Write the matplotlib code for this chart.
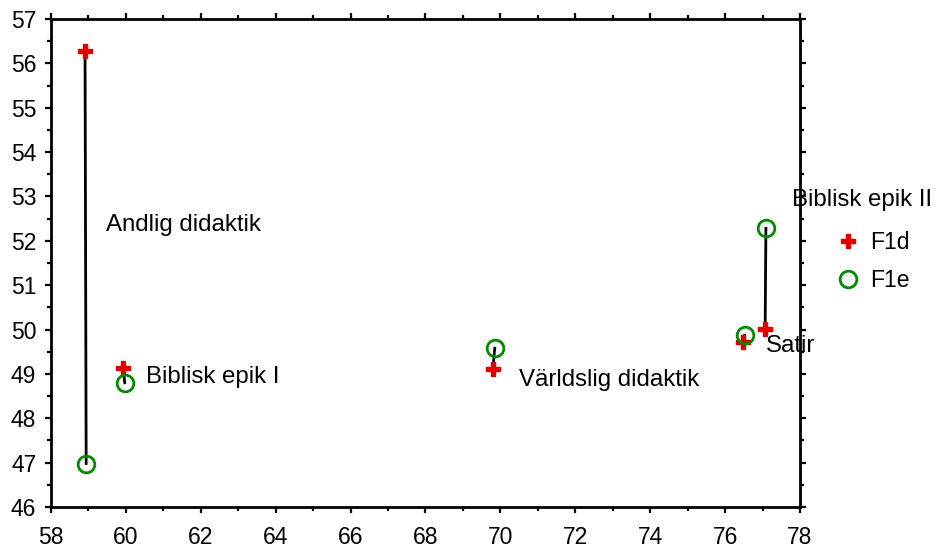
import matplotlib
matplotlib.use("Agg")
import matplotlib.pyplot as plt
from matplotlib.ticker import MultipleLocator
from matplotlib.lines import Line2D

plt.rcParams["font.family"] = ["Liberation Sans", "DejaVu Sans"]

# genres, each with an F1d and an F1e point
GENRES = ["Andlig didaktik", "Biblisk epik I", "Världslig didaktik", "Satir", "Biblisk epik II"]
F1D_X = [58.91, 59.93, 69.80, 76.48, 77.07]
F1D_Y = [56.28, 49.13, 49.10, 49.73, 50.02]
F1E_X = [58.94, 59.97, 69.85, 76.52, 77.09]
F1E_Y = [46.98, 48.80, 49.58, 49.87, 52.28]

# where each genre label sits (data coords, left edge / vertical centre)
LABEL_POS = [(59.48, 52.36), (60.55, 48.93), (70.50, 48.86), (77.10, 49.63), (77.78, 52.92)]

RED, GREEN = "#e00000", "#008a00"
FS = 16.5
LFS = 17.3

fig = plt.figure(figsize=(9.35, 5.5), dpi=100)
ax = fig.add_axes([0.0545, 0.0782, 0.8011, 0.8873])

for x0, y0, x1, y1 in zip(F1D_X, F1D_Y, F1E_X, F1E_Y):
    ax.plot([x0, x1], [y0, y1], color="black", lw=2, zorder=2)

ax.plot(F1D_X, F1D_Y, ls="none", marker="P", ms=10.5, color=RED, mec=RED, zorder=3)
ax.plot(F1E_X, F1E_Y, ls="none", marker="o", ms=12, mfc="none", mec=GREEN, mew=2, zorder=3)

for name, (lx, ly) in zip(GENRES, LABEL_POS):
    ax.text(lx, ly, name, fontsize=LFS, ha="left", va="center", clip_on=False, zorder=1)

ax.set_xlim(58, 78)
ax.set_ylim(46, 57)
ax.xaxis.set_major_locator(MultipleLocator(2))
ax.xaxis.set_minor_locator(MultipleLocator(1))
ax.yaxis.set_major_locator(MultipleLocator(1))
ax.yaxis.set_minor_locator(MultipleLocator(0.5))
ax.tick_params(which="both", direction="out", top=True, right=True, width=1.6, labelsize=FS, pad=6)
ax.tick_params(axis="x", pad=9)
ax.tick_params(which="major", length=4.5)
ax.tick_params(which="minor", length=3)
ax.tick_params(labeltop=False, labelright=False)
for sp in ax.spines.values():
    sp.set_linewidth(2)

handles = [
    Line2D([], [], ls="none", marker="P", ms=10.5, color=RED, label="F1d"),
    Line2D([], [], ls="none", marker="o", ms=12, mfc="none", mec=GREEN, mew=2, label="F1e"),
]
fig.legend(handles=handles, loc="upper left", bbox_to_anchor=(0.885, 0.6), frameon=False,
           fontsize=FS, handlelength=0.8, handletextpad=0.55, labelspacing=0.65, borderpad=0)

fig.savefig("out.png", dpi=100)
